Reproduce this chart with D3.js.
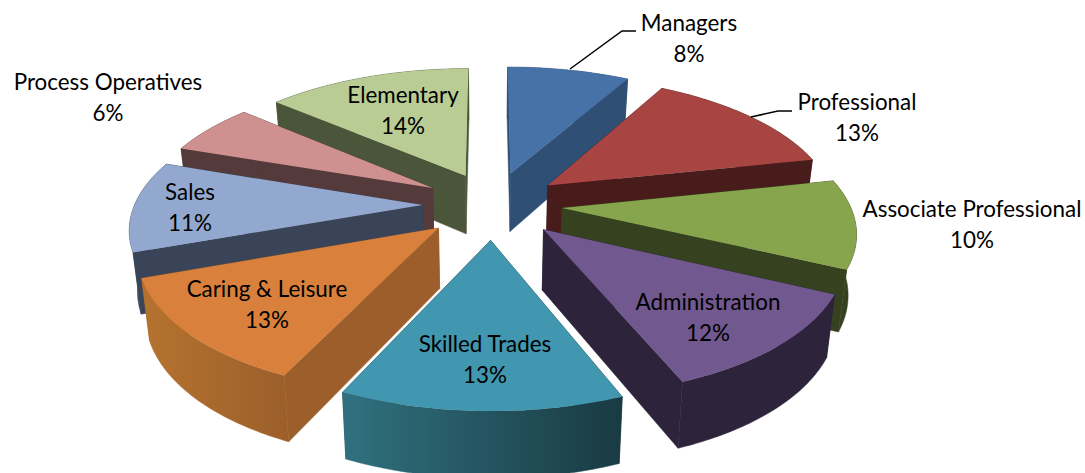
<!DOCTYPE html>
<html><head><meta charset="utf-8">
<script src="https://cdn.jsdelivr.net/npm/d3@7/dist/d3.min.js"></script>
<style>html,body{margin:0;padding:0;background:#fff}svg{display:block}</style>
</head><body><script>
// ---- data ----
const categories = ["Managers","Professional","Associate Professional","Administration","Skilled Trades","Caring & Leisure","Sales","Process Operatives","Elementary"];
const shares = [8.1,13.49,10.49,11.8,13.0,12.5,10.8,6.1,13.6];

// ---- styling ----
const topColors  = ["#4672A8","#A84543","#87A54C","#71588F","#4197AF","#D8803C","#92A8CF","#CF9190","#B8CC94"];
const wallLeft   = ["#2F4F75","#471C1A","#36421F","#2D233B","#30717F","#B5732F","#3A4458","#543A3A","#4B5539"];
const wallRight  = ["#2F4F75","#471C1A","#36421F","#2D233B","#193A42","#9C5F2B","#3A4458","#543A3A","#4B5539"];
const faceColors = ["#2F4F75","#471C1A","#36421F","#2D233B","#193A42","#9C5F2B","#3A4458","#543A3A","#4B5539"];
const explosion  = [74.8,75,74,75,74,68.7,65.5,68,70];
const explodeTurn= [3.6,1,-1.7,-2.9,-3.5,-3,0.5,4,5.1];
const paintOrder = [0,8,1,7,2,6,3,5,4];
const labelAnchor= [[689,24],[857,103],[972,210],[708,303],[485,345],[267,290],[190,193],[108,83],[403,96]];
const leaders    = {0:[[570,69],[622,31],[636,31]],1:[[751,117],[778,111],[792,111]]};

const W=1085,H=473,cx=488,cy=205,R=288,D=1860,K=0.4585;
const svg=d3.select("body").append("svg").attr("width",W).attr("height",H);
const defs=svg.append("defs");

const pie=d3.pie().sort(null).startAngle(0).endAngle(2*Math.PI);
const arcs=pie(shares);
const fmt=d3.format(".0%");

// perspective projection of the tilted pie plane; z=1 is the underside
function proj(u,v,z){
  const s=1/(1-v/D);
  const depth=59.5+0.0217*v;
  const sx=u*s, sy=K*v*s;
  return z? [cx+sx*0.977, cy+sy+depth] : [cx+sx, cy+sy];
}
const line=d3.line();

arcs.forEach((a,i)=>{
  const g=defs.append("linearGradient").attr("id","w"+i);
  g.append("stop").attr("offset",0).attr("stop-color",wallLeft[i]);
  g.append("stop").attr("offset",1).attr("stop-color",wallRight[i]);
});

paintOrder.forEach(i=>{
  const a=arcs[i];
  const mid=(a.startAngle+a.endAngle)/2+explodeTurn[i]*Math.PI/180;
  const ou=explosion[i]*Math.sin(mid), ov=-explosion[i]*Math.cos(mid);
  const P=(r,t,z)=>proj(ou+r*Math.sin(t),ov-r*Math.cos(t),z);
  const ts=d3.range(0,61).map(k=>a.startAngle+(a.endAngle-a.startAngle)*k/60);
  const g=svg.append("g");
  const poly=pts=>line(pts)+"Z";
  // radial faces
  [a.startAngle,a.endAngle].forEach(t=>{
    g.append("path").attr("d",poly([P(0,0,0),P(R,t,0),P(R,t,1),P(0,0,1)]))
      .attr("fill",faceColors[i]).attr("stroke",faceColors[i]).attr("stroke-width",0.5);
  });
  // outer wall
  const outerTop=ts.map(t=>P(R,t,0)), outerBot=ts.map(t=>P(R,t,1)).reverse();
  g.append("path").attr("d",poly(outerTop.concat(outerBot)))
    .attr("fill",`url(#w${i})`).attr("stroke",`url(#w${i})`).attr("stroke-width",0.5);
  // top
  g.append("path").attr("d",poly([P(0,0,0)].concat(outerTop))).attr("fill",topColors[i]);
});

// leader lines
Object.keys(leaders).forEach(k=>{
  svg.append("path").attr("d",line(leaders[k])).attr("fill","none").attr("stroke","#000").attr("stroke-width",1.5);
});

// labels
categories.forEach((c,i)=>{
  const t=svg.append("text").attr("text-anchor","middle")
    .attr("font-family","Lato, 'Open Sans', sans-serif").attr("font-size",22.4).attr("fill","#000");
  t.append("tspan").attr("x",labelAnchor[i][0]).attr("y",labelAnchor[i][1]+7).text(c);
  t.append("tspan").attr("x",labelAnchor[i][0]).attr("y",labelAnchor[i][1]+38).text(fmt(shares[i]/100));
});
</script></body></html>
